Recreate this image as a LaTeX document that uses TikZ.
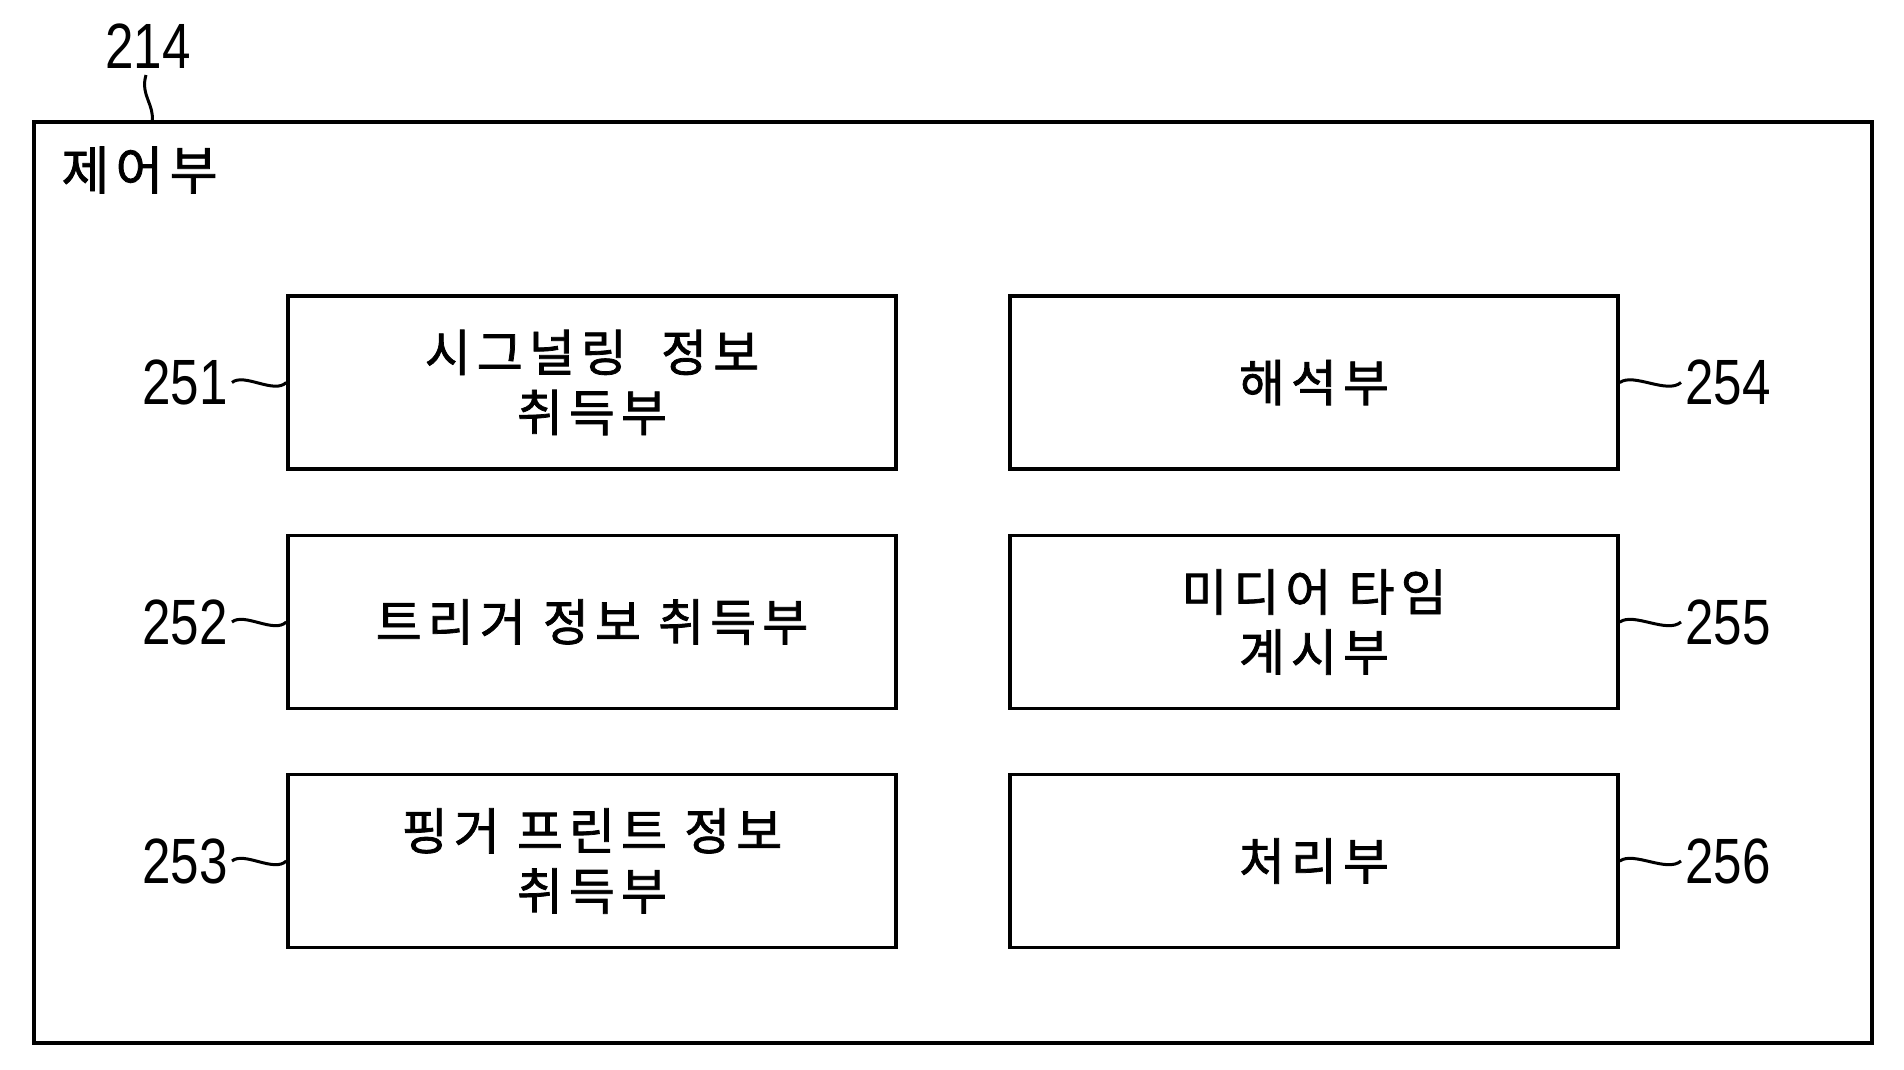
\documentclass[tikz,border=0pt]{standalone}
\usepackage{fontspec}
\setmainfont[LetterSpace=12,FakeBold=1.5]{Noto Sans CJK KR}
\newfontfamily\numfont{Liberation Sans}
\begin{document}
\begin{tikzpicture}[x=1pt,y=-1pt,
  blk/.style={draw,line width=3.5pt,minimum width=608pt,minimum height=173pt,align=center,font=\fontsize{50}{60}\selectfont},
  num/.style={font=\fontsize{64}{64}\selectfont\numfont,xscale=0.8,inner sep=0pt},
  lead/.style={line width=3pt}]
\useasboundingbox (0,0) rectangle (1904,1069);
\draw[line width=3.5pt] (34,122) rectangle (1872,1043);
\node[font=\fontsize{52}{52}\selectfont,anchor=west] (ctl) at (58,170) {제어부};
\node[num] (n214) at (148,46) {214};
\coordinate (c214) at (152,122);
\draw[lead] (c214) .. controls (155,105) and (140,95) .. (146,75);

\node[blk] (b251) at (592,382.5) {시그널링\ \ 정보\\취득부};
\node[blk] (b252) at (592,622) {트리거 정보 취득부};
\node[blk] (b253) at (592,861) {핑거 프린트 정보\\취득부};
\node[blk] (b254) at (1314,382.5) {해석부};
\node[blk] (b255) at (1314,622) {미디어 타임\\계시부};
\node[blk] (b256) at (1314,861) {처리부};

\foreach \n/\y in {251/382.5,252/622,253/861}{
  \node[num,anchor=east] (l\n) at (228,\y) {\n};
  \draw[lead] (l\n.east) ++(4,0) .. controls +(12,-10) and +(-12,12) .. (b\n.west);
}
\foreach \n/\y in {254/382.5,255/622,256/861}{
  \node[num,anchor=west] (l\n) at (1685,\y) {\n};
  \draw[lead] (b\n.east) .. controls +(14,-10) and +(-14,12) .. ([xshift=-4pt]l\n.west);
}
\end{tikzpicture}
\end{document}
